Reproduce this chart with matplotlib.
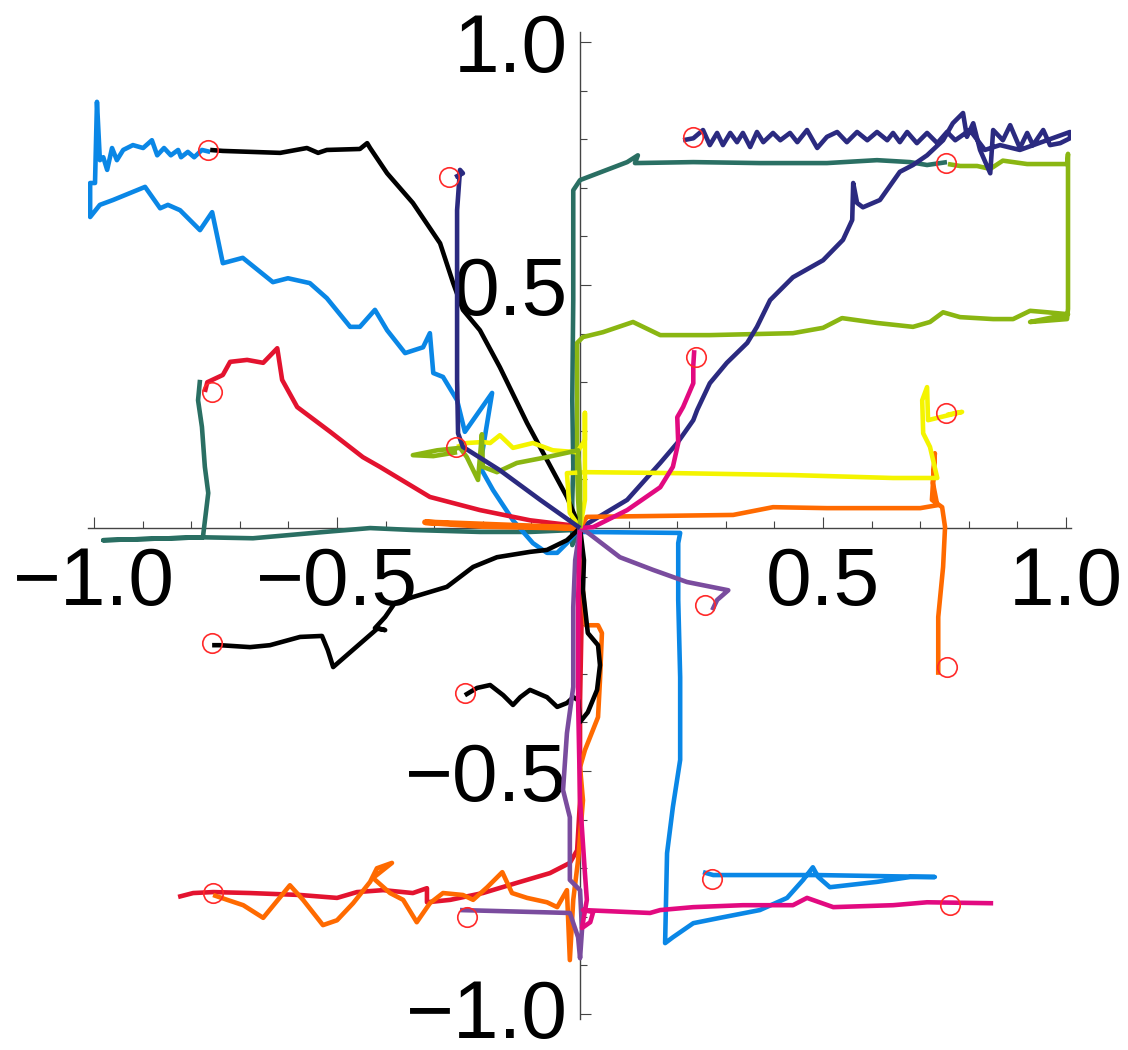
import numpy as np
import matplotlib
matplotlib.use("Agg")
import matplotlib.pyplot as plt
import matplotlib.transforms as mtransforms
from matplotlib.ticker import MultipleLocator, FixedLocator, FuncFormatter

plt.rcParams['font.family'] = ['Liberation Sans', 'DejaVu Sans']

# ---------------- data: trajectories (x, y) ----------------
black_a = [(0,0),(-0.027,0.064),(-0.068,0.140),(-0.109,0.216),(-0.165,0.331),(-0.206,0.407),(-0.241,0.449),
           (-0.261,0.504),(-0.288,0.586),(-0.344,0.669),(-0.397,0.730),(-0.432,0.782),(-0.438,0.792),(-0.453,0.780),
           (-0.521,0.778),(-0.539,0.772),(-0.562,0.782),(-0.617,0.772),(-0.735,0.776),(-0.761,0.778)]
black_b = [(0,0),(-0.027,-0.025),(-0.068,-0.045),(-0.103,-0.049),(-0.171,-0.060),(-0.220,-0.080),(-0.274,-0.121),
           (-0.344,-0.142),(-0.381,-0.154),(-0.401,-0.183),(-0.422,-0.206),(-0.401,-0.210),(-0.416,-0.206),
           (-0.508,-0.286),(-0.519,-0.251),(-0.531,-0.222),(-0.576,-0.224),(-0.638,-0.241),(-0.679,-0.245),
           (-0.741,-0.241),(-0.757,-0.241)]
black_c = [(0,0),(0.008,-0.066),(0.006,-0.128),(0.016,-0.216),(0.037,-0.241),(0.041,-0.282),(0.035,-0.333),
           (0.016,-0.379),(0,-0.399),(-0.004,-0.354),(-0.014,-0.348),(-0.027,-0.360),(-0.047,-0.368),(-0.068,-0.348),
           (-0.103,-0.333),(-0.123,-0.348),(-0.138,-0.364),(-0.158,-0.344),(-0.185,-0.323),(-0.212,-0.329),(-0.237,-0.344)]
blue_a = [(0,0),(-0.027,-0.031),(-0.047,-0.051),(-0.068,-0.051),(-0.097,-0.031),(-0.138,0.016),(-0.179,0.078),
          (-0.206,0.126),(-0.181,0.278),(-0.237,0.198),(-0.253,0.263),(-0.282,0.311),(-0.302,0.319),(-0.309,0.401),
          (-0.323,0.372),(-0.360,0.360),(-0.397,0.407),(-0.422,0.449),(-0.453,0.414),(-0.473,0.414),(-0.521,0.473),
          (-0.556,0.504),(-0.601,0.514),(-0.632,0.506),(-0.694,0.556),(-0.735,0.545),(-0.745,0.593),(-0.757,0.650),
          (-0.782,0.613),(-0.823,0.654),(-0.848,0.665),(-0.864,0.658),(-0.895,0.702),(-0.961,0.675),(-0.988,0.665),
          (-1.008,0.640),(-1.008,0.710),(-0.998,0.710),(-0.994,0.877),(-0.988,0.757),(-0.981,0.763),(-0.973,0.737),
          (-0.963,0.782),(-0.953,0.757),(-0.940,0.778),(-0.920,0.788),(-0.899,0.782),(-0.881,0.798),(-0.870,0.767),
          (-0.856,0.782),(-0.842,0.767),(-0.827,0.778),(-0.821,0.763),(-0.807,0.774),(-0.794,0.763),(-0.778,0.778),
          (-0.761,0.774)]
blue_b = [(0,0),(0.006,-0.008),(0.206,-0.010),(0.202,-0.031),(0.202,-0.148),(0.206,-0.307),(0.206,-0.477),
          (0.191,-0.574),(0.179,-0.669),(0.175,-0.854),(0.191,-0.842),(0.233,-0.813),(0.288,-0.802),(0.370,-0.786),
          (0.426,-0.761),(0.459,-0.724),(0.479,-0.698),(0.490,-0.718),(0.514,-0.739),(0.611,-0.728),(0.679,-0.718),
          (0.730,-0.718),(0.488,-0.714),(0.370,-0.714),(0.274,-0.714),(0.253,-0.708)]
red_a = [(0,0),(-0.021,0.006),(-0.103,0.016),(-0.206,0.037),(-0.309,0.064),(-0.412,0.126),(-0.447,0.146),
         (-0.514,0.198),(-0.582,0.249),(-0.613,0.305),(-0.623,0.370),(-0.652,0.340),(-0.685,0.346),(-0.720,0.342),
         (-0.735,0.315),(-0.767,0.300),(-0.772,0.280)]
red_b = [(0,0),(0.004,-0.148),(0,-0.354),(0,-0.560),(-0.006,-0.663),(-0.021,-0.689),(-0.062,-0.710),(-0.130,-0.730),
         (-0.200,-0.751),(-0.267,-0.765),(-0.315,-0.770),(-0.315,-0.741),(-0.344,-0.751),(-0.405,-0.745),
         (-0.459,-0.749),(-0.500,-0.761),(-0.576,-0.755),(-0.679,-0.751),(-0.755,-0.749),(-0.796,-0.751),(-0.827,-0.759)]
orange_a = [(0,0),(-0.16,0.006),(-0.319,0.012),(-0.20,0.004),(0,0)]
orange_b = [(0,0),(0.014,0.023),(0.165,0.025),(0.315,0.027),(0.397,0.043),(0.508,0.041),(0.700,0.041),(0.735,0.047),
            (0.726,0.093),(0.730,0.154),(0.724,0.058),(0.745,0.043),(0.751,0.002),(0.747,-0.080),(0.737,-0.183),
            (0.737,-0.302)]
orange_c = [(0,0),(0.004,-0.107),(0.012,-0.200),(0.037,-0.200),(0.045,-0.216),(0.041,-0.313),(0.037,-0.389),
            (0.010,-0.457),(0,-0.492),(0.006,-0.560),(-0.004,-0.683),(-0.014,-0.765),(-0.021,-0.889),(-0.027,-0.745),
            (-0.047,-0.780),(-0.068,-0.770),(-0.109,-0.761),(-0.140,-0.751),(-0.160,-0.708),(-0.191,-0.739),
            (-0.220,-0.765),(-0.241,-0.755),(-0.282,-0.751),(-0.309,-0.772),(-0.336,-0.811),(-0.364,-0.765),
            (-0.391,-0.751),(-0.426,-0.720),(-0.387,-0.689),(-0.418,-0.700),(-0.432,-0.728),(-0.467,-0.772),
            (-0.500,-0.807),(-0.529,-0.817),(-0.570,-0.765),(-0.597,-0.735),(-0.652,-0.802),(-0.693,-0.776),
            (-0.726,-0.765),(-0.755,-0.755)]
teal_a = [(0,0),(-0.014,-0.004),(-0.103,-0.008),(-0.206,-0.008),(-0.344,-0.004),(-0.432,0),(-0.549,-0.010),
          (-0.673,-0.021),(-0.776,-0.019),(-0.981,-0.025),(-0.776,-0.019),(-0.765,0.072),(-0.772,0.126),
          (-0.778,0.208),(-0.786,0.263),(-0.782,0.305)]
teal_b = [(0,0),(-0.016,-0.035),(-0.016,0.058),(-0.014,0.126),(-0.016,0.263),(-0.014,0.469),(-0.014,0.695),
          (0,0.716),(0.097,0.753),(0.119,0.767),(0.113,0.751),(0.233,0.753),(0.370,0.751),(0.508,0.751),
          (0.611,0.757),(0.679,0.753),(0.714,0.747),(0.755,0.753)]
navy_a = [(0,0),(-0.082,0.058),(-0.165,0.119),(-0.241,0.167),(-0.251,0.195),(-0.253,0.305),(-0.253,0.469),
          (-0.253,0.654),(-0.247,0.737),(-0.241,0.730),(-0.257,0.722)]
navy_b = [(0,0),(0.097,0.058),(0.165,0.134),(0.200,0.175),(0.233,0.222),(0.241,0.243),(0.267,0.298),(0.302,0.340),
          (0.344,0.381),(0.364,0.414),(0.391,0.469),(0.438,0.516),(0.500,0.551),(0.541,0.593),(0.560,0.634),
          (0.562,0.710),(0.570,0.669),(0.582,0.660),(0.617,0.675),(0.658,0.733),(0.685,0.747),(0.714,0.767),
          (0.747,0.798),(0.767,0.833),(0.788,0.854),(0.796,0.805),(0.809,0.833),(0.823,0.778),(0.844,0.730),
          (0.850,0.819),(0.870,0.798),(0.885,0.829),(0.905,0.782),(0.920,0.813),(0.932,0.788),(0.953,0.819),
          (0.967,0.788),(0.988,0.792),(1.008,0.802),(1.008,0.815),(0.905,0.778),(0.864,0.788),(0.833,0.778),
          (0.802,0.819),(0.772,0.798),(0.755,0.815),(0.735,0.792),(0.714,0.813),(0.693,0.792),(0.673,0.815),
          (0.658,0.794),(0.644,0.813),(0.632,0.798),(0.611,0.815),(0.591,0.798),(0.570,0.815),(0.549,0.794),
          (0.529,0.815),(0.508,0.805),(0.488,0.782),(0.467,0.819),(0.447,0.794),(0.432,0.813),(0.412,0.798),
          (0.397,0.813),(0.377,0.794),(0.364,0.815),(0.350,0.784),(0.335,0.813),(0.323,0.794),(0.309,0.813),
          (0.294,0.788),(0.282,0.813),(0.267,0.788),(0.253,0.819),(0.233,0.802),(0.212,0.798)]
green_a = [(0,0),(-0.004,0.058),(-0.006,0.126),(-0.006,0.263),(-0.006,0.381),(0.006,0.393),(0.047,0.403),
           (0.109,0.424),(0.165,0.397),(0.267,0.397),(0.438,0.401),(0.500,0.412),(0.539,0.432),(0.611,0.422),
           (0.685,0.414),(0.720,0.424),(0.747,0.444),(0.782,0.434),(0.850,0.430),(0.891,0.430),(0.926,0.447),
           (0.961,0.444),(1.004,0.440),(0.926,0.424),(1.002,0.430),(1.004,0.451),(1.004,0.574),(1.004,0.770),
           (1.002,0.749),(0.920,0.749),(0.870,0.756),(0.844,0.739),(0.817,0.745),(0.782,0.745),(0.757,0.749)]
green_b = [(0,0),(0,0.099),(-0.004,0.160),(-0.068,0.146),(-0.130,0.134),(-0.171,0.115),(-0.200,0.126),
           (-0.202,0.193),(-0.210,0.099),(-0.233,0.146),(-0.247,0.165),(-0.294,0.160),(-0.344,0.150),
           (-0.302,0.148),(-0.253,0.156)]
yellow_a = [(0,0),(0.010,0.058),(0.010,0.140),(0.010,0.237),(0.010,0.181),(-0.006,0.156),(-0.056,0.160),
            (-0.097,0.175),(-0.138,0.165),(-0.165,0.191),(-0.185,0.175),(-0.200,0.177),(-0.233,0.175),(-0.253,0.167)]
yellow_b = [(0,0),(-0.021,0.031),(-0.027,0.113),(0.014,0.115),(0.200,0.113),(0.438,0.109),(0.644,0.103),
            (0.735,0.103),(0.720,0.167),(0.706,0.195),(0.704,0.263),(0.714,0.290),(0.716,0.222),(0.786,0.239),
            (0.755,0.233)]
magenta_a = [(0,0),(0.027,0.002),(0.097,0.037),(0.165,0.084),(0.191,0.126),(0.202,0.175),(0.200,0.228),
             (0.212,0.249),(0.233,0.298),(0.233,0.335),(0.235,0.366)]
magenta_b = [(0,0),(-0.004,-0.148),(-0.004,-0.354),(0,-0.560),(0.010,-0.710),(0.014,-0.765),(0.004,-0.823),
             (0.021,-0.811),(0.027,-0.790),(0.006,-0.786),(0.097,-0.790),(0.144,-0.792),(0.165,-0.786),
             (0.233,-0.780),(0.335,-0.776),(0.438,-0.776),(0.467,-0.761),(0.521,-0.780),(0.644,-0.776),
             (0.714,-0.770),(0.850,-0.772)]
purple_a = [(0,0),(0.014,-0.008),(0.082,-0.060),(0.150,-0.086),(0.220,-0.111),(0.305,-0.128),(0.282,-0.148),
            (0.272,-0.169)]
purple_b = [(0,0),(-0.010,-0.066),(-0.014,-0.163),(-0.014,-0.327),(-0.027,-0.422),(-0.035,-0.539),(-0.021,-0.595),
            (-0.021,-0.724),(0,-0.745),(0.004,-0.827),(0,-0.885),(-0.004,-0.842),(-0.021,-0.792),(-0.247,-0.786)]

# target circles
targets_x = [-0.765, -0.270, -0.757, -0.255, 0.233, 0.753, 0.239, 0.753, 0.257, 0.755, -0.757, -0.237, 0.272,
             -0.755, -0.233, 0.761]
targets_y = [0.778, 0.722, 0.280, 0.167, 0.805, 0.751, 0.352, 0.237, -0.158, -0.286, -0.237, -0.340, -0.722,
             -0.751, -0.800, -0.776]

BLACK = "#000000"
BLUE = "#0A87E6"
RED = "#E3132F"
ORANGE = "#FF6A00"
TEAL = "#2A6F63"
NAVY = "#2B2A80"
GREEN = "#8AB612"
YELLOW = "#F4F400"
MAGENTA = "#E20A80"
PURPLE = "#7A4C9E"

series = [
    (teal_a, TEAL), (teal_b, TEAL), (green_a, GREEN), (navy_b, NAVY), (blue_a, BLUE), (black_a, BLACK),
    (red_a, RED), (orange_a, ORANGE), (orange_b, ORANGE), (yellow_b, YELLOW), (blue_b, BLUE),
    (black_b, BLACK), (red_b, RED), (orange_c, ORANGE), (black_c, BLACK), (purple_b, PURPLE),
    (magenta_b, MAGENTA), (purple_a, PURPLE), (magenta_a, MAGENTA), (yellow_a, YELLOW), (green_b, GREEN),
    (navy_a, NAVY),
]

fig = plt.figure(figsize=(11.28, 10.5), dpi=100)
ax = fig.add_axes([0.0782, 0.0296, 0.8712, 0.9396])
ax.set_xlim(-1.012, 1.01)
ax.set_ylim(-1.01, 1.02)

for pts, col in series:
    arr = np.array(pts)
    w = 4.2 if pts is orange_a else 3.3
    ax.plot(arr[:, 0], arr[:, 1], color=col, lw=w, solid_joinstyle='round', solid_capstyle='butt', zorder=2)

ax.plot(targets_x, targets_y, linestyle='none', marker='o', markersize=14, markerfacecolor='none',
        markeredgecolor='#FF2A2A', markeredgewidth=1.2, zorder=5)

for s in ['top', 'right']:
    ax.spines[s].set_visible(False)
ax.spines['left'].set_position(('data', 0))
ax.spines['bottom'].set_position(('data', 0))
for s in ['left', 'bottom']:
    ax.spines[s].set_color('#444444')
    ax.spines[s].set_linewidth(1.0)
    ax.spines[s].set_zorder(1)

major = [-1.0, -0.5, 0.5, 1.0]
ax.xaxis.set_major_locator(FixedLocator(major))
ax.yaxis.set_major_locator(FixedLocator(major))
ax.xaxis.set_minor_locator(MultipleLocator(0.1))
ax.yaxis.set_minor_locator(MultipleLocator(0.1))
fmt = FuncFormatter(lambda v, p: f"{v:.1f}".replace("-", "\u2212"))
ax.xaxis.set_major_formatter(fmt)
ax.yaxis.set_major_formatter(fmt)
ax.tick_params(which='major', direction='in', length=8, width=0.8, color='#444444', labelsize=59, pad=13)
ax.tick_params(which='minor', direction='in', length=5, width=0.8, color='#444444')
ax.tick_params(axis='y', which='major', pad=9)

# nudge the lowest y label slightly up so it stays inside the canvas
fig.canvas.draw()
for t in ax.yaxis.get_majorticklabels():
    if t.get_text().endswith("1.0") and t.get_text().startswith("\u2212"):
        t.set_transform(t.get_transform() + mtransforms.ScaledTranslation(0, 4 / 72, fig.dpi_scale_trans))

fig.savefig("out.png", dpi=100, facecolor='white')
